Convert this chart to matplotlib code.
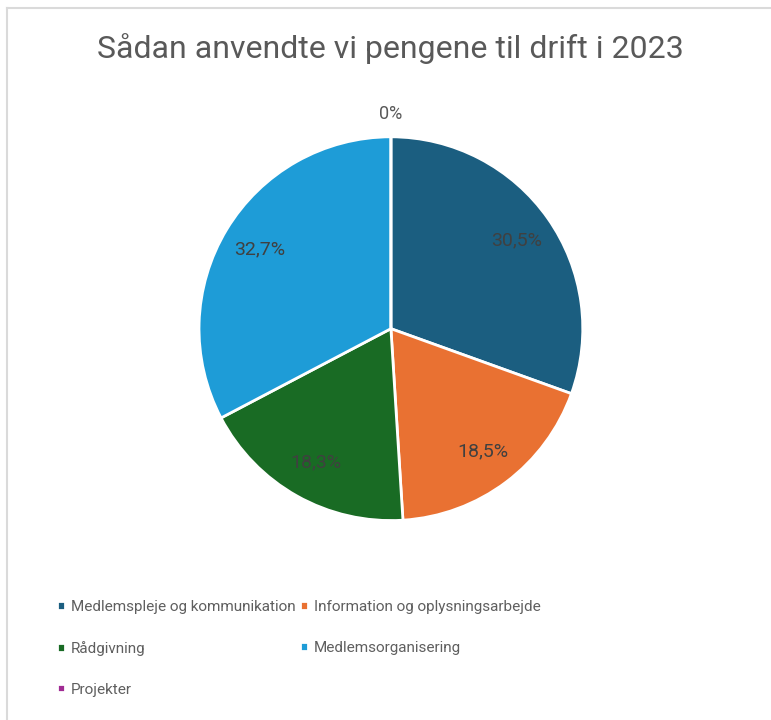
import matplotlib.pyplot as plt
from matplotlib.lines import Line2D
import numpy as np

title = "Sådan anvendte vi pengene til drift i 2023"
categories = ["Medlemspleje og kommunikation", "Information og oplysningsarbejde",
              "Rådgivning", "Medlemsorganisering", "Projekter"]
values = [30.5, 18.5, 18.3, 32.7, 0.0]
colors = ["#1B5E80", "#E97132", "#196B24", "#1E9CD7", "#A02B93"]

plt.rcParams['font.family'] = ['Roboto', 'DejaVu Sans']

fig = plt.figure(figsize=(7.71, 7.2), dpi=100)
ax = fig.add_axes([0.258, 0.277, 0.498, 0.533])


def fmt(p):
    s = f"{p:.1f}".replace(".", ",")
    return "0%" if p < 0.05 else s + "%"


wedges, texts, autotexts = ax.pie(values, colors=colors, startangle=90, counterclock=False,
                                  autopct=fmt, pctdistance=0.8,
                                  wedgeprops=dict(edgecolor="white", linewidth=2),
                                  textprops=dict(color="#404040", fontsize=14))
ax.set_xlim(-1, 1)
ax.set_ylim(-1, 1)

# zero slice label sits just outside the pie
for w, t, v in zip(wedges, autotexts, values):
    if v == 0:
        ang = np.deg2rad((w.theta1 + w.theta2) / 2)
        t.set_position((1.12 * np.cos(ang), 1.12 * np.sin(ang)))
        t.set_color("#595959")
        t.set_fontsize(13)

fig.text(0.506, 0.933, title, ha="center", va="center", fontsize=23, color="#595959")

# legend is filled row by row, matplotlib fills column by column
order = [0, 2, 4, 1, 3]
fig.legend([wedges[i] for i in order], [categories[i] for i in order],
           loc="upper left", bbox_to_anchor=(0.056, 0.186), ncol=2,
           frameon=False, fontsize=11, handlelength=0.5, handleheight=0.5,
           handletextpad=0.4, columnspacing=0.3, labelspacing=1.76, labelcolor="#5F5F5F")

# screenshot frame
fig.add_artist(Line2D([0.009, 1.0], [0.989, 0.989], color="#DADADA", lw=1.5))
fig.add_artist(Line2D([0.009, 0.009], [0.0, 0.989], color="#DADADA", lw=1.5))

fig.savefig("out.png", dpi=100)
